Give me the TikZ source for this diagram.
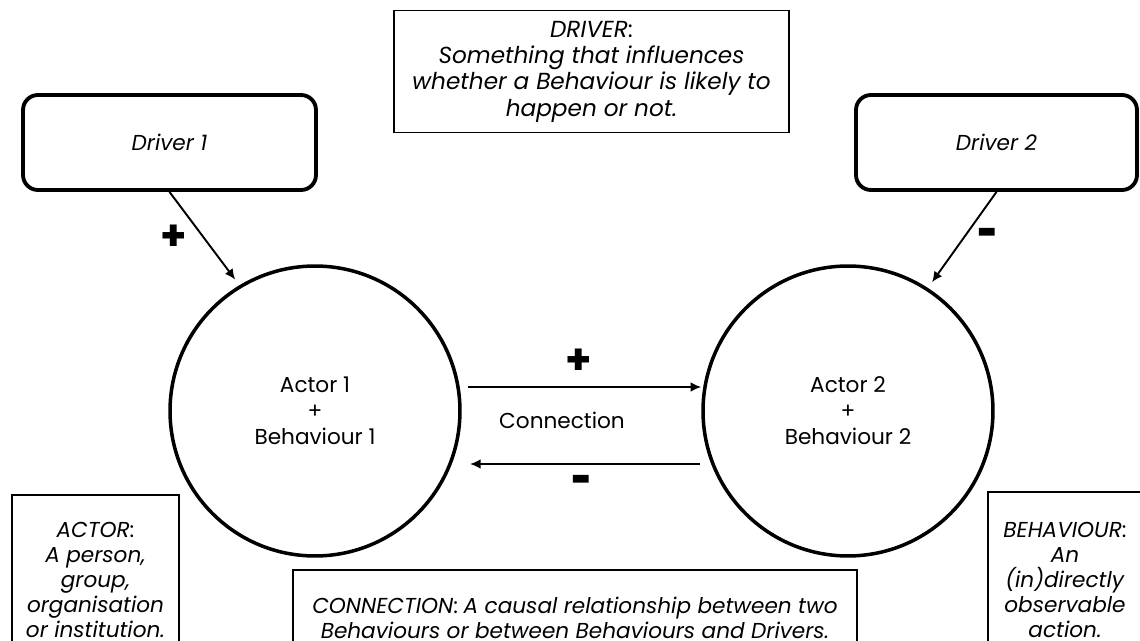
\documentclass[tikz,border=0pt]{standalone}
\usepackage{fontspec}
\setmainfont{Poppins}
\usetikzlibrary{arrows.meta}

\tikzset{
  txt/.style={font=\fontsize{12.3pt}{14.3pt}\selectfont, align=center},
  drvbox/.style={draw, line width=2.2pt, rounded corners=8.5pt, txt, inner sep=0pt},
  infobox/.style={draw, line width=1.1pt, txt, inner sep=0pt},
  actor/.style={draw, circle, line width=2pt, minimum size=5.8cm, inner sep=0pt,
    font=\fontsize{12.3pt}{14.8pt}\selectfont, align=center},
  link/.style={line width=1.1pt, -{Latex[length=6pt,width=5.5pt]}},
  sign/.style={font=\fontsize{24pt}{24pt}\selectfont\bfseries}
}
\newcommand{\minussign}{\scalebox{0.85}[1.3]{-}}

\begin{document}
\begin{tikzpicture}[x=0.02cm, y=-0.02cm]
  \useasboundingbox (0,0) rectangle (1140,641);

  % Drivers
  \node[drvbox, minimum width=5.86cm, minimum height=1.9cm] (drv1) at (169.5,142.5) {\textit{Driver 1}};
  \node[drvbox, minimum width=5.62cm, minimum height=1.9cm] (drv2) at (996.5,142.5) {\textit{Driver 2}};

  % Definition Driver
  \node[infobox, minimum width=7.9cm, minimum height=2.44cm,
    font=\fontsize{13.2pt}{15pt}\selectfont] (defdrv) at (591.5,71.5)
    {\textit{DRIVER}:\\ \textit{Something that influences}\\ \textit{whether a Behaviour is likely to}\\ \textit{happen or not.}};

  % Actors
  \node[actor] (act1) at (315,411) {Actor 1\\ +\\ Behaviour 1};
  \node[actor] (act2) at (848,411) {Actor 2\\ +\\ Behaviour 2};

  % Driver arrows
  \draw[link, shorten >=4pt] (drv1.south) -- (act1.121);
  \draw[link, shorten >=4pt] (drv2.south) -- (act2.57);
  \node[sign] (sgn1) at (174,238) {+};
  \node[sign] (sgn2) at (988,240) {\minussign};

  % Connections
  \coordinate (ct1) at (468,387);
  \coordinate (cb1) at (470,464);
  \coordinate (cb2) at (700,464);
  \draw[link] (ct1) -- (ct1 -| act2.west);
  \draw[link] (cb2) -- (cb1);
  \node[sign] (sgn3) at (579,362) {+};
  \node[txt] (conlbl) at (562,420) {Connection};
  \node[sign] (sgn4) at (582,487) {\minussign};

  % Definitions
  \node[infobox, minimum width=3.34cm, minimum height=3.4cm] (defact) at (95.5,580)
    {\textit{ACTOR}:\\ \textit{A person,}\\ \textit{group,}\\ \textit{organisation}\\ \textit{or institution.}};
  \node[infobox, minimum width=11.28cm, minimum height=1.9cm] (defcon) at (575,617.5)
    {\textit{CONNECTION}: \textit{A causal relationship between two}\\ \textit{Behaviours or between Behaviours and Drivers.}};
  \node[infobox, minimum width=3.08cm, minimum height=3.52cm] (defbeh) at (1065,580)
    {\textit{BEHAVIOUR}:\\ \textit{An}\\ \textit{(in)directly}\\ \textit{observable}\\ \textit{action.}};
\end{tikzpicture}
\end{document}
